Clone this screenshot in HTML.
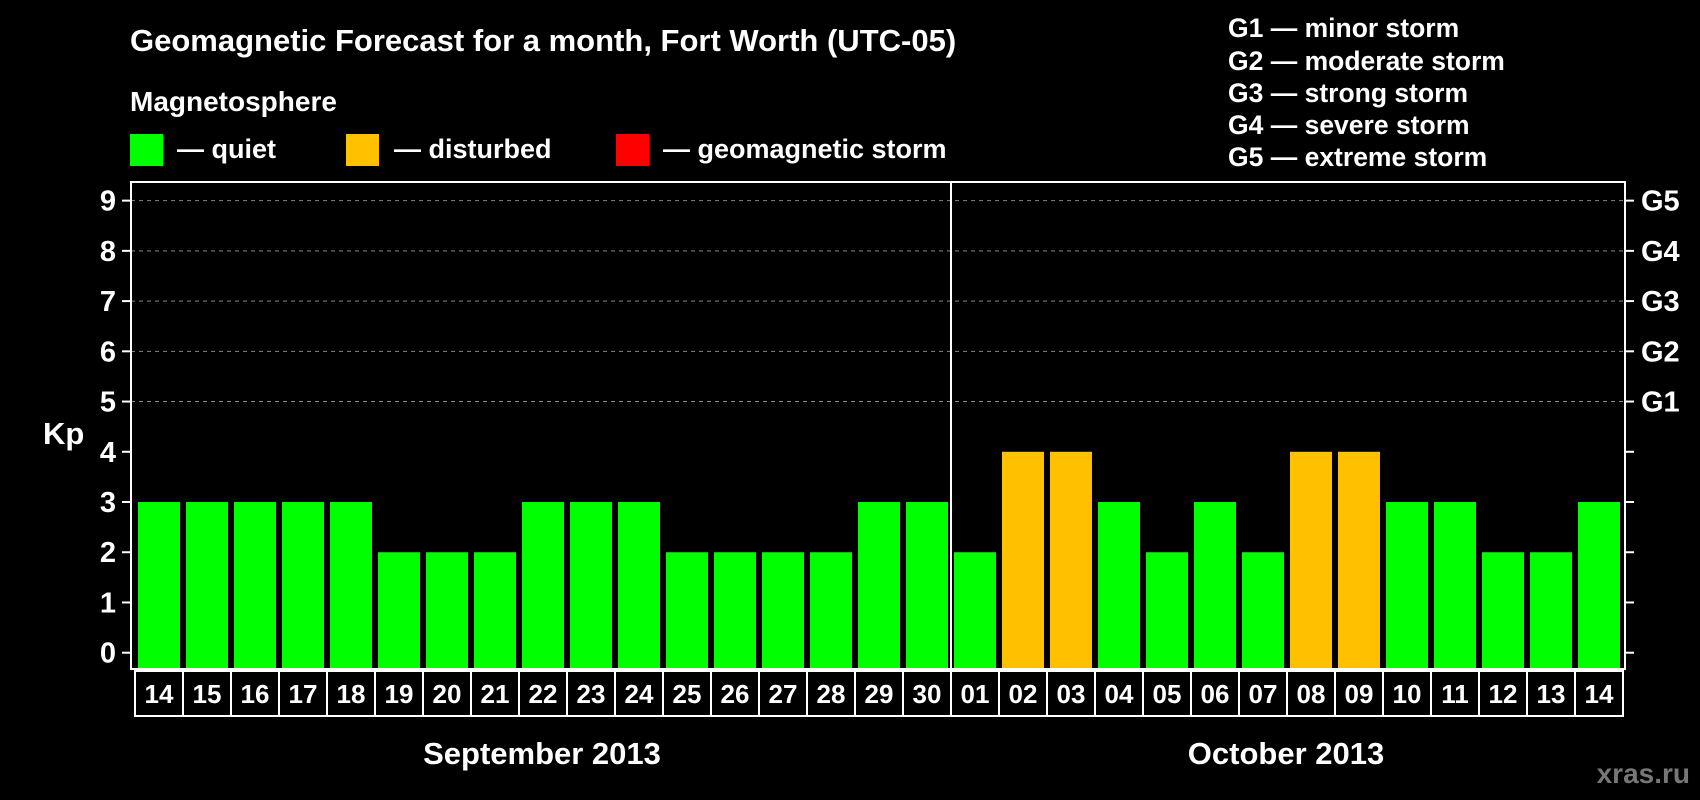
<!DOCTYPE html>
<html><head><meta charset="utf-8"><style>
body{margin:0;background:#000;width:1700px;height:800px;overflow:hidden}
svg{display:block;font-family:"Liberation Sans",sans-serif;font-weight:bold}
</style></head><body>
<svg id="c" width="1700" height="800">
<text x="130" y="51" fill="#fff" font-size="31">Geomagnetic Forecast for a month, Fort Worth (UTC-05)</text>
<text x="130" y="111" fill="#fff" font-size="28">Magnetosphere</text>
<rect x="130" y="134" width="33" height="32" fill="#00ff00"/>
<text x="177" y="158" fill="#fff" font-size="27">— quiet</text>
<rect x="346" y="134" width="33" height="32" fill="#ffc000"/>
<text x="394" y="158" fill="#fff" font-size="27">— disturbed</text>
<rect x="616" y="134" width="33" height="32" fill="#ff0000"/>
<text x="663" y="158" fill="#fff" font-size="27">— geomagnetic storm</text>
<g fill="#fff" font-size="26.5">
<text x="1228" y="37">G1 — minor storm</text>
<text x="1228" y="70">G2 — moderate storm</text>
<text x="1228" y="102">G3 — strong storm</text>
<text x="1228" y="134">G4 — severe storm</text>
<text x="1228" y="166">G5 — extreme storm</text>
</g>
<text x="43" y="444" fill="#fff" font-size="31">Kp</text>
<text x="542" y="764" fill="#fff" font-size="31" text-anchor="middle">September 2013</text>
<text x="1286" y="764" fill="#fff" font-size="31" text-anchor="middle">October 2013</text>
<text x="1690" y="783" fill="#777" font-size="28" text-anchor="end">xras.ru</text>
<g id="plot"></g>
</svg>
<script>
const days=["14","15","16","17","18","19","20","21","22","23","24","25","26","27","28","29","30","01","02","03","04","05","06","07","08","09","10","11","12","13","14"];
const kpValues=[3,3,3,3,3,2,2,2,3,3,3,2,2,2,2,3,3,2,4,4,3,2,3,2,4,4,3,3,2,2,3];
const yTicks=[0,1,2,3,4,5,6,7,8,9];
const gLabels=["G1","G2","G3","G4","G5"];
const monthSplit=17;
const NS="http://www.w3.org/2000/svg";
const g=document.getElementById('plot');
const y0=652.7,unit=50.23,bandStart=135,bandW=48,frameTop=182,frameBot=669;
const yS=v=>y0-v*unit;
const xS=i=>bandStart+i*bandW;
function mk(t,a){const e=document.createElementNS(NS,t);for(const k in a)e.setAttribute(k,a[k]);g.appendChild(e);return e;}
let e;
yTicks.forEach(v=>{
 if(v>=5){e=mk('line',{x1:131,x2:1625,y1:yS(v),y2:yS(v),stroke:'#888','stroke-dasharray':'4,4','stroke-width':1});
 
 }
 e=mk('line',{x1:122,x2:131,y1:yS(v),y2:yS(v),stroke:'#fff','stroke-width':2});
 
 
 e=mk('line',{x1:1625,x2:1634,y1:yS(v),y2:yS(v),stroke:'#fff','stroke-width':2});
 
 
 e=mk('text',{x:116,y:yS(v)+10,fill:'#fff','font-size':29,'text-anchor':'end'});e.textContent=v;
 
 
});
gLabels.forEach((l,i)=>{
 e=mk('text',{x:1641,y:yS(5+i)+10,fill:'#fff','font-size':29});e.textContent=l;
 
 
});
kpValues.forEach((v,i)=>{
 const col=v>=5?'#ff0000':(v>=4?'#ffc000':'#00ff00');
 e=mk('rect',{x:xS(i)+3,y:yS(v),width:42,height:frameBot-yS(v),fill:col});
 
 
 e=mk('rect',{x:xS(i),y:frameBot+2,width:bandW,height:45,fill:'none',stroke:'#fff','stroke-width':2});
 
 
 e=mk('text',{x:xS(i)+bandW/2,y:frameBot+34,fill:'#fff','font-size':26,'text-anchor':'middle'});e.textContent=days[i];
 
 
});
e=mk('rect',{x:131,y:frameTop,width:1494,height:frameBot-frameTop,fill:'none',stroke:'#fff','stroke-width':2});


e=mk('line',{x1:xS(monthSplit),x2:xS(monthSplit),y1:frameTop,y2:frameBot,stroke:'#fff','stroke-width':2});


</script>
</body></html>
